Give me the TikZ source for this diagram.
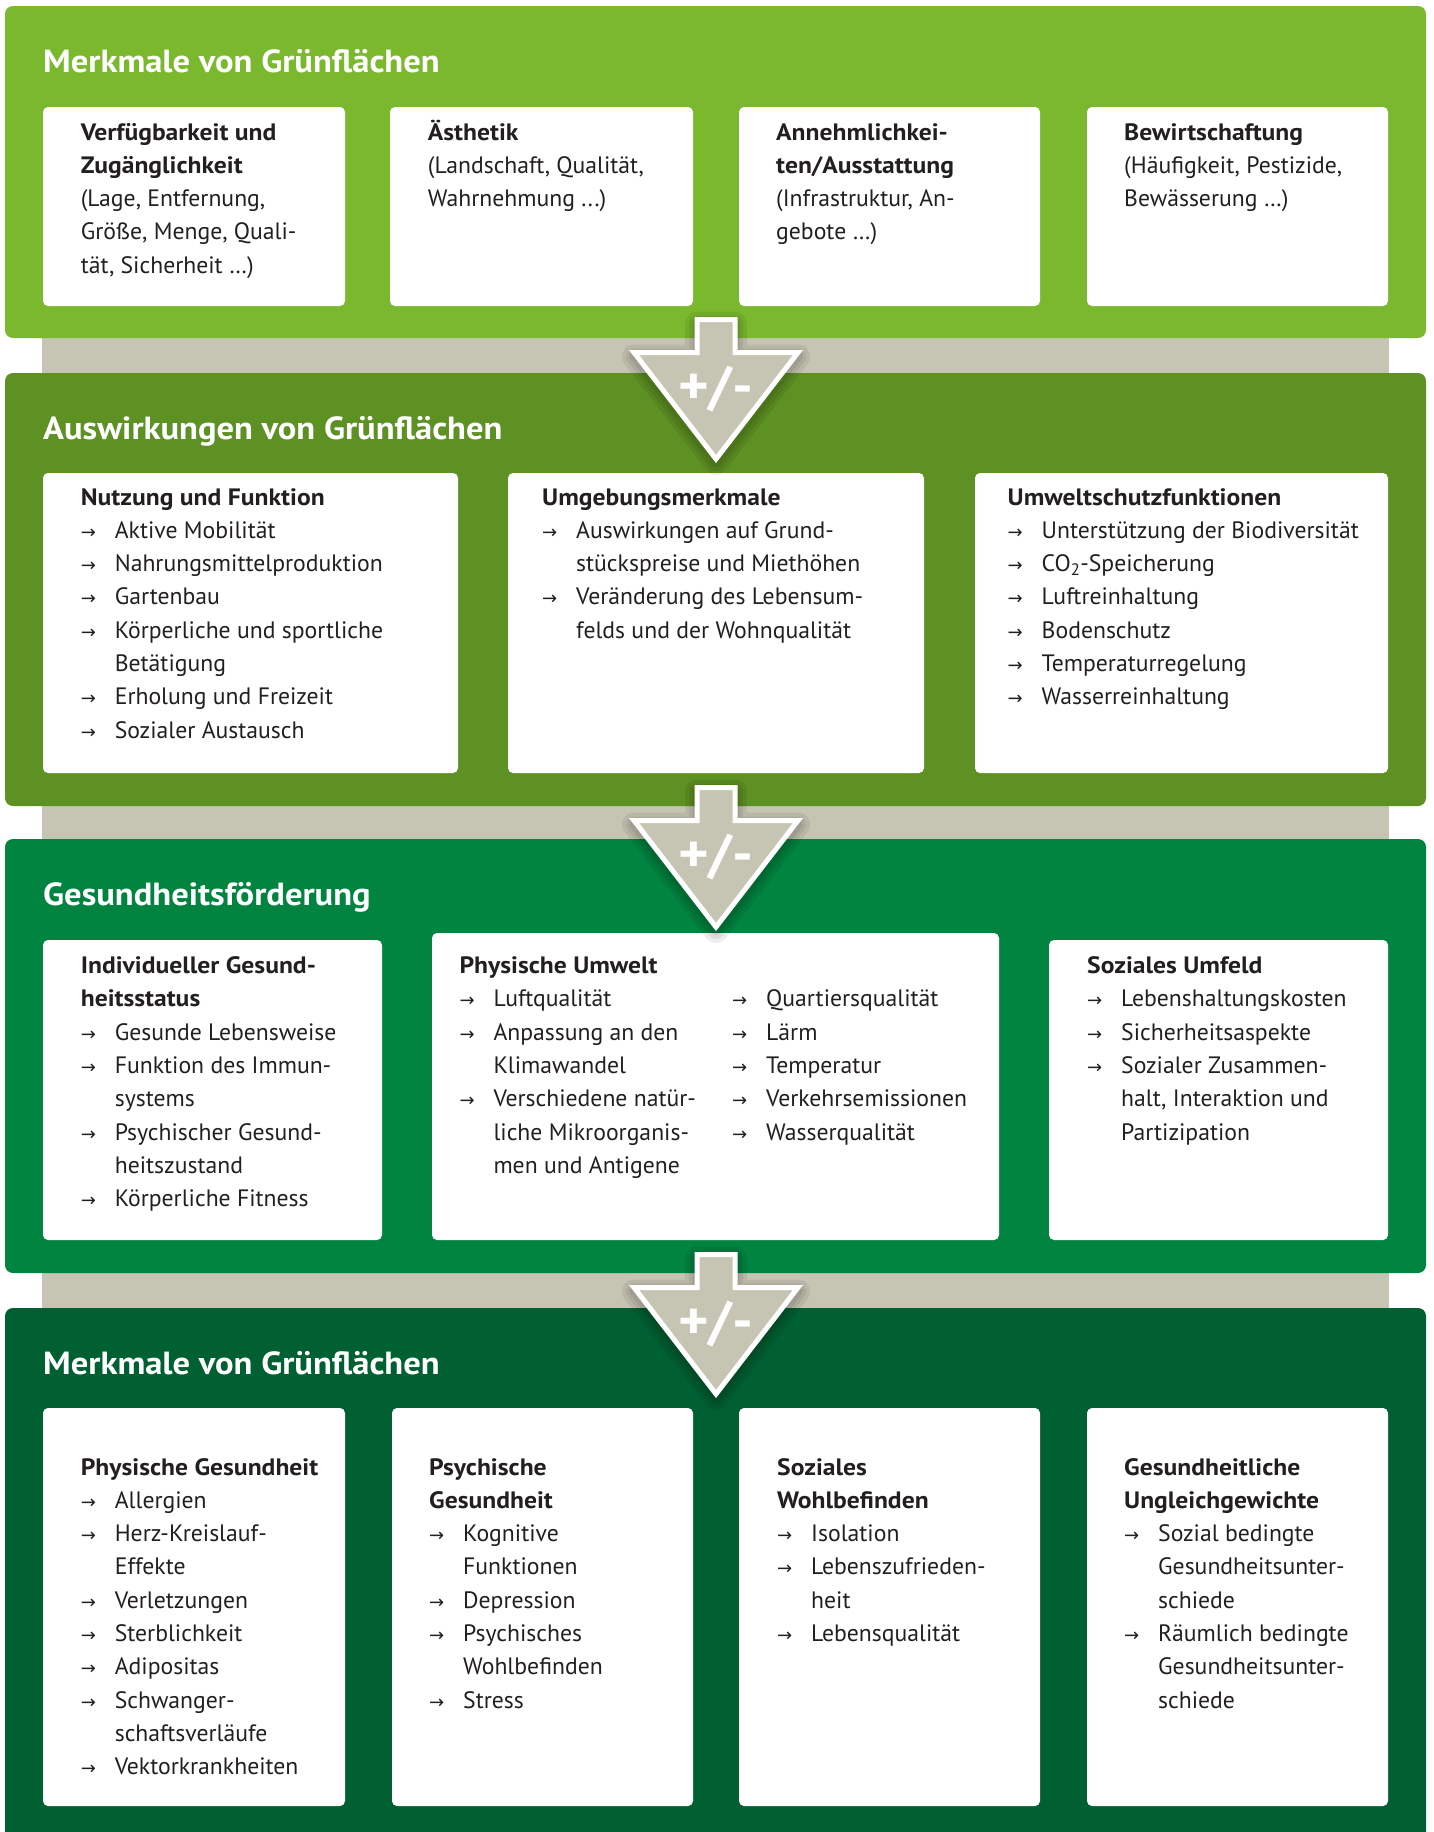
\documentclass[tikz,border=0pt]{standalone}
\usepackage{fontspec}
\setmainfont{PT Sans}[BoldFeatures={FakeStretch=1.08}]
\newfontfamily\arrfont{DejaVu Sans}
\definecolor{bandA}{HTML}{7AB92E}
\definecolor{bandB}{HTML}{5E9123}
\definecolor{bandC}{HTML}{008440}
\definecolor{bandD}{HTML}{006032}
\definecolor{greyc}{HTML}{C6C5B4}
\definecolor{txt}{HTML}{231F20}
\newlength\bulind \setlength\bulind{34pt}
\newcommand\bl{\makebox[\bulind][l]{\fontsize{18}{18}\arrfont →}}
\newcommand\ct{\hspace*{\bulind}}
\newcommand\bx[1]{\begin{tabular}[t]{@{}l@{}}#1\end{tabular}}
\tikzset{
  bandbox/.style={anchor=north west, inner sep=0pt, outer sep=0pt, rounded corners=8pt},
  wbox/.style={anchor=north west, inner sep=0pt, outer sep=0pt, fill=white, rounded corners=5pt},
  boxtext/.style={anchor=base west, inner sep=0pt, text=txt, font=\fontsize{23.7}{33.3}\selectfont},
  bandtitle/.style={anchor=base west, inner sep=0pt, text=white, font=\fontsize{32}{32}\selectfont\bfseries},
  signtext/.style={inner sep=0pt, text=white, font=\fontsize{54}{54}\selectfont\bfseries}
}
\newcommand\bandrect[6]{\node[bandbox, fill=#6, minimum width={#4-#2}, minimum height={#5-#3}] (#1) at (#2,#3) {};}
\newcommand\whiterect[5]{\node[wbox, minimum width={#4-#2}, minimum height={#5-#3}] (#1) at (#2,#3) {};}
\newcommand\signarrow[2]{%
  \begin{scope}[shift={(0,#1)}]
    \foreach \w in {24,16,9}{%
      \filldraw[black, opacity=0.07, line width=\w pt, line join=round]
        (697,-14.5) -- (735,-14.5) -- (735,18.5) -- (798,18.5) -- (716,125) -- (634,18.5) -- (697,18.5) -- cycle;}
    \filldraw[fill=greyc, draw=white, line width=5pt, line join=miter, miter limit=10]
      (697,-18.5) -- (735,-18.5) -- (735,14.5) -- (798,14.5) -- (716,121) -- (634,14.5) -- (697,14.5) -- cycle;
    \node[signtext] (#2) at (716,51) {+/-};
  \end{scope}}
\begin{document}
\begin{tikzpicture}[x=1pt,y=-1pt]
\useasboundingbox (0,0) rectangle (1434,1832);
% grey spine
\fill[greyc] (42,300) rectangle (1389,1320);
% bands
\bandrect{b1}{5}{6}{1426}{338}{bandA}
\bandrect{b2}{5}{373}{1426}{806}{bandB}
\bandrect{b3}{5}{839}{1426}{1273}{bandC}
\bandrect{b4}{5}{1308}{1426}{1860}{bandD}
% titles
\node[bandtitle] (t1) at (43,72) {Merkmale von Grünflächen};
\node[bandtitle] (t2) at (43,439) {Auswirkungen von Grünflächen};
\node[bandtitle] (t3) at (43,905) {Gesundheitsförderung};
\node[bandtitle] (t4) at (43,1374) {Merkmale von Grünflächen};
% band 1 boxes
\whiterect{a1}{43}{107}{345}{306}
\whiterect{a2}{390}{107}{693}{306}
\whiterect{a3}{739}{107}{1040}{306}
\whiterect{a4}{1087}{107}{1388}{306}
\node[boxtext] (a1t) at (80.6,140) {\bx{\textbf{Verfügbarkeit und}\\ \textbf{Zugänglichkeit}\\ (Lage, Entfernung,\\ Größe, Menge, Quali-\\ tät, Sicherheit …)}};
\node[boxtext] (a2t) at (427.7,140) {\bx{\textbf{Ästhetik}\\ (Landschaft, Qualität,\\ Wahrnehmung ...)}};
\node[boxtext] (a3t) at (776,140) {\bx{\textbf{Annehmlichkei-}\\ \textbf{ten/Ausstattung}\\ (Infrastruktur, An-\\ gebote …)}};
\node[boxtext] (a4t) at (1124,140) {\bx{\textbf{Bewirtschaftung}\\ (Häufigkeit, Pestizide,\\ Bewässerung …)}};
% band 2 boxes
\whiterect{c1}{43}{473}{458}{773}
\whiterect{c2}{508}{473}{924}{773}
\whiterect{c3}{975}{473}{1388}{773}
\node[boxtext] (c1t) at (80.6,505) {\bx{\textbf{Nutzung und Funktion}\\ \bl Aktive Mobilität\\ \bl Nahrungsmittelproduktion\\ \bl Gartenbau\\ \bl Körperliche und sportliche\\ \ct Betätigung\\ \bl Erholung und Freizeit\\ \bl Sozialer Austausch}};
\node[boxtext] (c2t) at (542,505) {\bx{\textbf{Umgebungsmerkmale}\\ \bl Auswirkungen auf Grund-\\ \ct stückspreise und Miethöhen\\ \bl Veränderung des Lebensum-\\ \ct felds und der Wohnqualität}};
\node[boxtext] (c3t) at (1007.5,505) {\bx{\textbf{Umweltschutzfunktionen}\\ \bl Unterstützung der Biodiversität\\ \bl CO\textsubscript{2}-Speicherung\\ \bl Luftreinhaltung\\ \bl Bodenschutz\\ \bl Temperaturregelung\\ \bl Wasserreinhaltung}};
% band 3 boxes
\whiterect{d1}{43}{940}{382}{1240}
\whiterect{d2}{432}{933}{999}{1240}
\whiterect{d3}{1049}{940}{1388}{1240}
\node[boxtext] (d1t) at (80.6,973.5) {\bx{\textbf{Individueller Gesund-}\\ \textbf{heitsstatus}\\ \bl Gesunde Lebensweise\\ \bl Funktion des Immun-\\ \ct systems\\ \bl Psychischer Gesund-\\ \ct heitszustand\\ \bl Körperliche Fitness}};
\node[boxtext] (d2t) at (459.3,973.5) {\bx{\textbf{Physische Umwelt}\\ \bl Luftqualität\\ \bl Anpassung an den\\ \ct Klimawandel\\ \bl Verschiedene natür-\\ \ct liche Mikroorganis-\\ \ct men und Antigene}};
\node[boxtext] (d2r) at (732,1006.8) {\bx{\bl Quartiersqualität\\ \bl Lärm\\ \bl Temperatur\\ \bl Verkehrsemissionen\\ \bl Wasserqualität}};
\node[boxtext] (d3t) at (1087,973.5) {\bx{\textbf{Soziales Umfeld}\\ \bl Lebenshaltungskosten\\ \bl Sicherheitsaspekte\\ \bl Sozialer Zusammen-\\ \ct halt, Interaktion und\\ \ct Partizipation}};
% band 4 boxes
\whiterect{e1}{43}{1408}{345}{1806}
\whiterect{e2}{392}{1408}{693}{1806}
\whiterect{e3}{739}{1408}{1040}{1806}
\whiterect{e4}{1087}{1408}{1388}{1806}
\node[boxtext] (e1t) at (80.6,1475) {\bx{\textbf{Physische Gesundheit}\\ \bl Allergien\\ \bl Herz-Kreislauf-\\ \ct Effekte\\ \bl Verletzungen\\ \bl Sterblichkeit\\ \bl Adipositas\\ \bl Schwanger-\\ \ct schaftsverläufe\\ \bl Vektorkrankheiten}};
\node[boxtext] (e2t) at (429,1475) {\bx{\textbf{Psychische}\\ \textbf{Gesundheit}\\ \bl Kognitive\\ \ct Funktionen\\ \bl Depression\\ \bl Psychisches\\ \ct Wohlbefinden\\ \bl Stress}};
\node[boxtext] (e3t) at (777,1475) {\bx{\textbf{Soziales}\\ \textbf{Wohlbefinden}\\ \bl Isolation\\ \bl Lebenszufrieden-\\ \ct heit\\ \bl Lebensqualität}};
\node[boxtext] (e4t) at (1124,1475) {\bx{\textbf{Gesundheitliche}\\ \textbf{Ungleichgewichte}\\ \bl Sozial bedingte\\ \ct Gesundheitsunter-\\ \ct schiede\\ \bl Räumlich bedingte\\ \ct Gesundheitsunter-\\ \ct schiede}};
% arrows
\signarrow{338}{s1}
\signarrow{806}{s2}
\signarrow{1273}{s3}
\end{tikzpicture}
\end{document}
